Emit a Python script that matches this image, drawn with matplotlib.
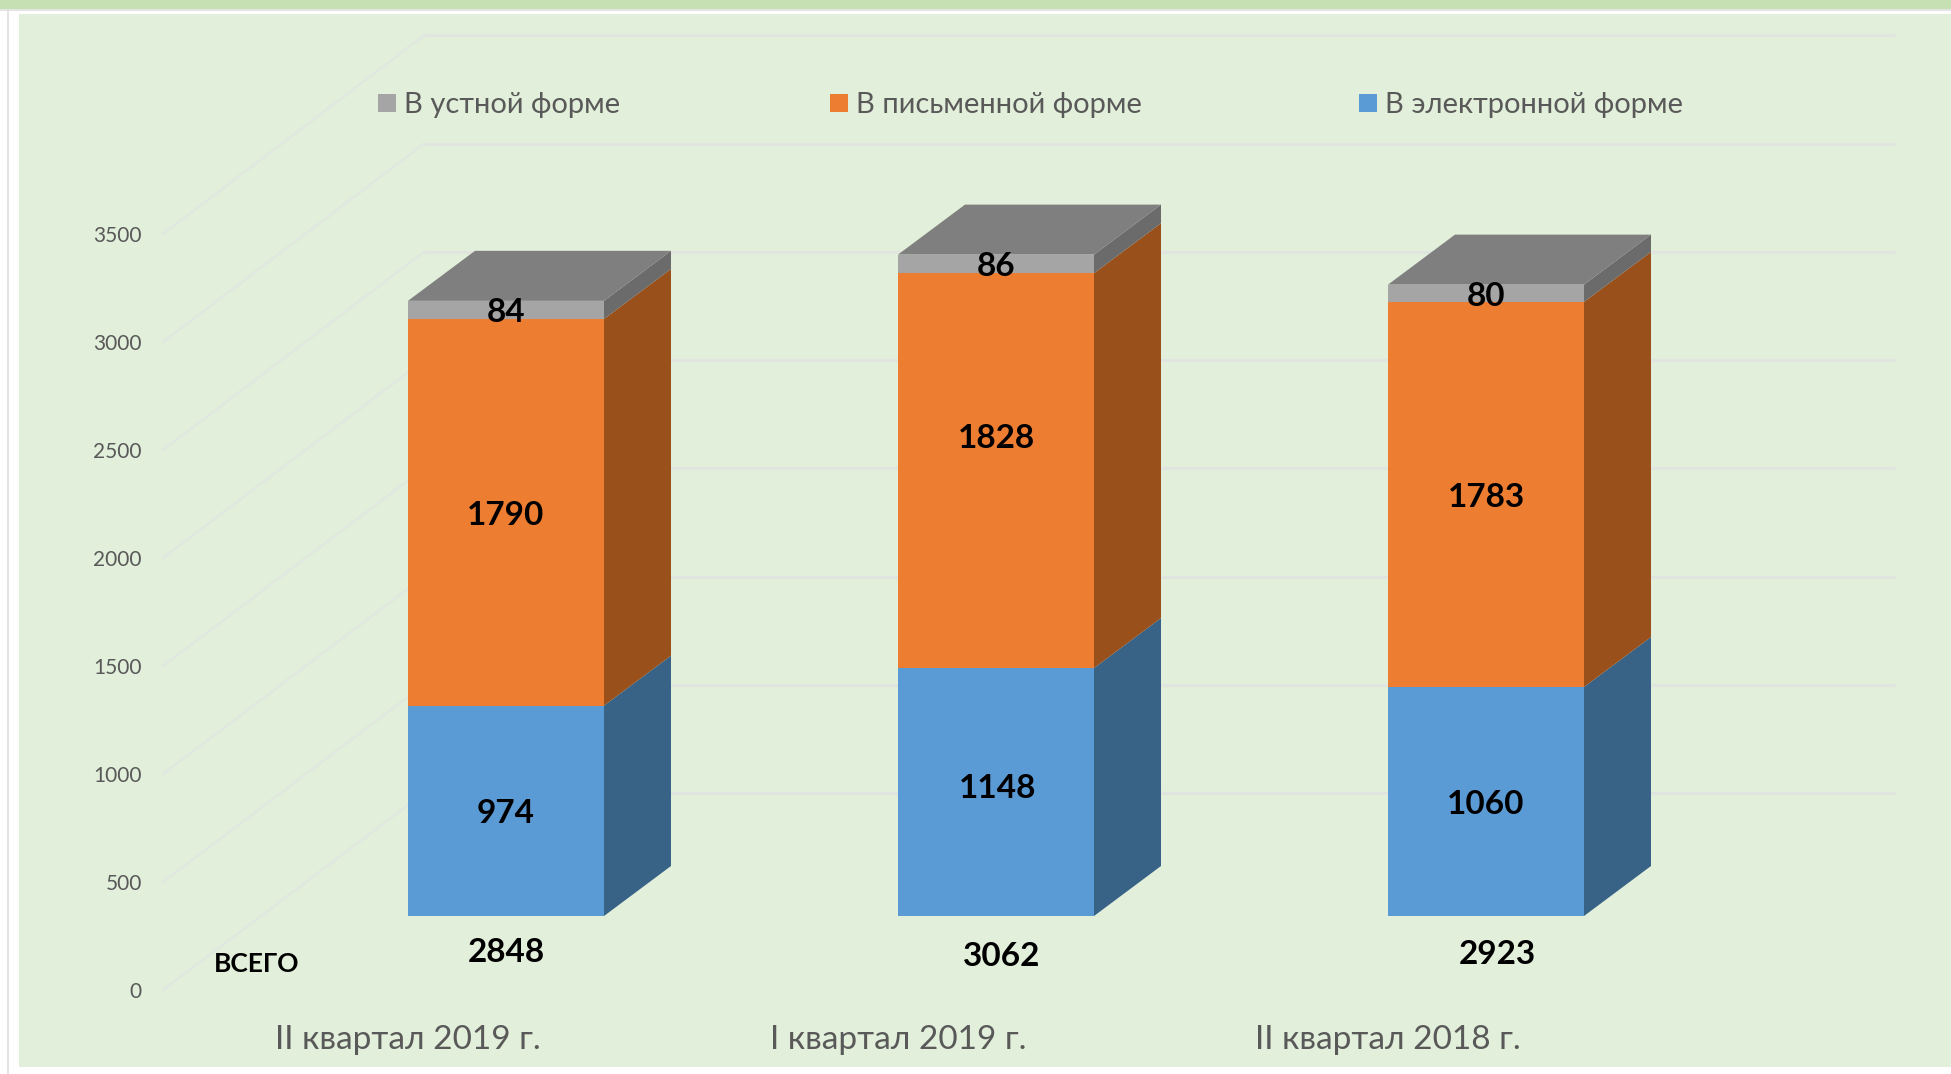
import matplotlib
matplotlib.use('Agg')
import matplotlib.pyplot as plt
from matplotlib.patches import Polygon, Rectangle

plt.rcParams['font.family'] = ['Lato', 'Open Sans', 'DejaVu Sans']

quarters = ['II квартал 2019 г.', 'I квартал 2019 г.', 'II квартал 2018 г.']
electronic = [974, 1148, 1060]
written = [1790, 1828, 1783]
oral = [84, 86, 80]
totals = [2848, 3062, 2923]
axis_ticks = [0, 500, 1000, 1500, 2000, 2500, 3000, 3500]
legend_names = ['В устной форме', 'В письменной форме', 'В электронной форме']

# pixel layout of the picture
W, H = 1951, 1074
PX_PER_CAT = 490.0
PX_PER_VAL = 0.216
X0_PX = 506.0
Y0_PX = 916.0

# 3d look, offsets in data units
BAR_W = 0.4
DEPTH_X = 67 / PX_PER_CAT
DEPTH_Y = 50 / PX_PER_VAL
WALL_X0 = (424 - X0_PX) / PX_PER_CAT
WALL_X1 = (1895 - X0_PX) / PX_PER_CAT
WALL_Y0 = (Y0_PX - 793) / PX_PER_VAL
WALL_STRETCH = 1.002
FLOOR_X0 = (163 - X0_PX) / PX_PER_CAT
FLOOR_Y0 = (Y0_PX - 990) / PX_PER_VAL

fig = plt.figure(figsize=(W / 100, H / 100), dpi=100, facecolor='white')
ax = fig.add_axes([0, 0, 1, 1])
ax.set_xlim(-X0_PX / PX_PER_CAT, (W - X0_PX) / PX_PER_CAT)
ax.set_ylim((Y0_PX - H) / PX_PER_VAL, Y0_PX / PX_PER_VAL)
ax.axis('off')


def page_rect(x, y, w, h, color, zorder=-1):
    # rectangle given in pixels from the top left corner
    fig.patches.append(Rectangle((x / W, 1 - (y + h) / H), w / W, h / H, transform=fig.transFigure,
                                 color=color, lw=0, zorder=zorder))


# page background
page_rect(0, 0, W, 9, '#c6e0b4')
page_rect(0, 9, W, 1.5, '#e4e4e4')
page_rect(7, 10, 1.5, H - 10, '#e4e4e4')
page_rect(19, 14, W - 19, 1053, '#e2efda')

# gridlines on the back wall and the side wall
for v in axis_ticks:
    back_y = v * WALL_STRETCH + WALL_Y0
    ax.plot([WALL_X0, WALL_X1], [back_y, back_y], color='#e1e5df', lw=2.2, zorder=1, solid_capstyle='butt')
    ax.plot([FLOOR_X0, WALL_X0], [v + FLOOR_Y0, back_y], color='#e1e8e0', lw=1.8, zorder=1)
    ax.text(FLOOR_X0 - 21 / PX_PER_CAT, v + FLOOR_Y0 - 2 / PX_PER_VAL, str(v), ha='right', va='center',
            fontsize=15, color='#595959')

series = [
    (electronic, '#5b9bd5', '#386286'),
    (written, '#ed7d31', '#99501b'),
    (oral, '#a5a5a5', '#6b6b6b'),
]
# the labels of the second bar sit off centre in the original
label_shift_y = {(0, 1): -7, (1, 1): -35}
label_shift_x = {(0, 1): 2}
xs = list(range(len(quarters)))
bottoms = [0, 0, 0]
for s, (values, front, side) in enumerate(series):
    ax.bar(xs, values, BAR_W, bottom=bottoms, color=front, lw=0, zorder=3)
    for i, val in enumerate(values):
        xr = xs[i] + BAR_W / 2
        y0, y1 = bottoms[i], bottoms[i] + val
        ax.add_patch(Polygon([(xr, y0), (xr + DEPTH_X, y0 + DEPTH_Y), (xr + DEPTH_X, y1 + DEPTH_Y), (xr, y1)],
                             color=side, lw=0, zorder=2))
        shift = label_shift_y.get((s, i), 0) + 3
        ax.text(xs[i] + label_shift_x.get((s, i), 0) / PX_PER_CAT, y0 + val / 2 - shift / PX_PER_VAL, str(val),
                ha='center', va='center', fontsize=24, fontweight='bold', color='black', zorder=5)
    bottoms = [b + v for b, v in zip(bottoms, values)]

# top faces
for i, top in enumerate(bottoms):
    xl, xr = xs[i] - BAR_W / 2, xs[i] + BAR_W / 2
    ax.add_patch(Polygon([(xl, top), (xr, top), (xr + DEPTH_X, top + DEPTH_Y), (xl + DEPTH_X, top + DEPTH_Y)],
                         color='#7f7f7f', lw=0, zorder=4))

# totals under the bars
total_shift_x = [0, 6, 11]
total_shift_y = [37, 41, 38]
for i, t in enumerate(totals):
    ax.text(xs[i] + total_shift_x[i] / PX_PER_CAT, -total_shift_y[i] / PX_PER_VAL, str(t), ha='center', va='center',
            fontsize=24, fontweight='bold', color='black')
ax.text((214 - X0_PX) / PX_PER_CAT, (Y0_PX - 964) / PX_PER_VAL, 'ВСЕГО', ha='left', va='center',
        fontsize=19, fontweight='bold', color='black')

# category labels
for i, q in enumerate(quarters):
    ax.text(xs[i] - 98 / PX_PER_CAT, (Y0_PX - 1040) / PX_PER_VAL, q, ha='center', va='center', fontsize=24, color='#595959')

# legend placed by hand
legend_x = [378, 830, 1359]
legend_colors = ['#a5a5a5', '#ed7d31', '#5b9bd5']
for name, lx, c in zip(legend_names, legend_x, legend_colors):
    page_rect(lx, 94, 18, 18, c, zorder=1)
    fig.text((lx + 26) / W, 1 - 105 / H, name, ha='left', va='center', fontsize=21, color='#595959')

fig.savefig('out.png', dpi=100)
